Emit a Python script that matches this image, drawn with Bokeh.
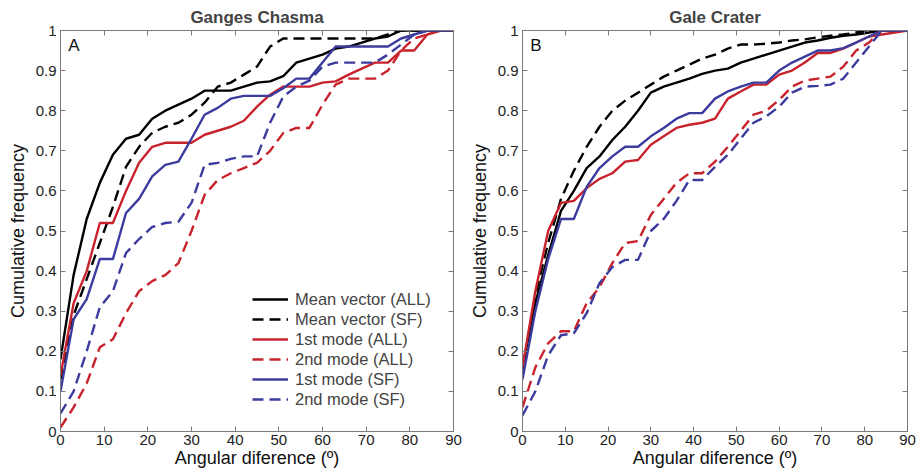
from bokeh.plotting import figure
from bokeh.layouts import row
from bokeh.models import (FixedTicker, LinearAxis, Legend, LegendItem, Label,
                          CustomJSTickFormatter, Range1d)
from bokeh.embed import file_html
from bokeh.resources import INLINE

# ---- data ----
angle = [0, 3, 6, 9, 12, 15, 18, 21, 24, 27, 30, 33, 36, 39, 42, 45,
         48, 51, 54, 57, 60, 63, 66, 69, 72, 75, 78, 81, 84, 87, 90]

ganges_mean_all = [0.18, 0.39, 0.53, 0.62, 0.69, 0.73, 0.74, 0.78, 0.80, 0.815, 0.83, 0.85, 0.85, 0.85, 0.86, 0.87,
                   0.873, 0.886, 0.92, 0.93, 0.94, 0.955, 0.96, 0.97, 0.98, 0.985, 1.0, 1.0, 1.0, 1.0, 1.0]
ganges_mean_sf = [0.13, 0.29, 0.38, 0.47, 0.56, 0.66, 0.71, 0.745, 0.76, 0.77, 0.79, 0.82, 0.86, 0.87, 0.89, 0.91,
                  0.96, 0.98, 0.98, 0.98, 0.98, 0.98, 0.98, 0.98, 0.98, 0.99, 1.0, 1.0, 1.0, 1.0, 1.0]
ganges_first_all = [0.14, 0.32, 0.40, 0.52, 0.52, 0.60, 0.67, 0.71, 0.72, 0.72, 0.72, 0.74, 0.75, 0.76, 0.775, 0.81,
                    0.84, 0.86, 0.86, 0.86, 0.87, 0.873, 0.89, 0.905, 0.92, 0.92, 0.95, 0.95, 0.99, 1.0, 1.0]
ganges_second_all = [0.01, 0.06, 0.12, 0.21, 0.23, 0.295, 0.35, 0.375, 0.39, 0.42, 0.50, 0.59, 0.627, 0.644, 0.657, 0.67,
                     0.70, 0.744, 0.757, 0.757, 0.815, 0.865, 0.88, 0.88, 0.88, 0.90, 0.95, 0.98, 0.99, 1.0, 1.0]
ganges_first_sf = [0.10, 0.28, 0.33, 0.43, 0.43, 0.545, 0.58, 0.636, 0.665, 0.673, 0.73, 0.79, 0.807, 0.83, 0.837, 0.837,
                   0.837, 0.856, 0.88, 0.88, 0.92, 0.96, 0.96, 0.96, 0.96, 0.96, 0.98, 0.99, 1.0, 1.0, 1.0]
ganges_second_sf = [0.045, 0.10, 0.20, 0.31, 0.35, 0.445, 0.48, 0.51, 0.52, 0.523, 0.57, 0.665, 0.67, 0.68, 0.686, 0.686,
                    0.77, 0.835, 0.86, 0.875, 0.91, 0.92, 0.92, 0.92, 0.92, 0.94, 0.965, 0.99, 1.0, 1.0, 1.0]

gale_mean_all = [0.16, 0.32, 0.44, 0.55, 0.60, 0.657, 0.686, 0.727, 0.76, 0.80, 0.845, 0.86, 0.87, 0.88, 0.892, 0.90,
                 0.905, 0.92, 0.93, 0.94, 0.95, 0.96, 0.97, 0.975, 0.982, 0.987, 0.99, 0.995, 1.0, 1.0, 1.0]
gale_mean_sf = [0.14, 0.34, 0.47, 0.58, 0.65, 0.71, 0.76, 0.80, 0.825, 0.845, 0.865, 0.885, 0.90, 0.915, 0.93, 0.94,
                0.955, 0.965, 0.965, 0.967, 0.97, 0.975, 0.978, 0.983, 0.987, 0.99, 0.995, 1.0, 1.0, 1.0, 1.0]
gale_first_all = [0.16, 0.35, 0.50, 0.57, 0.575, 0.607, 0.63, 0.644, 0.673, 0.677, 0.715, 0.736, 0.757, 0.765, 0.77, 0.78,
                  0.83, 0.848, 0.865, 0.865, 0.89, 0.90, 0.92, 0.944, 0.944, 0.955, 0.97, 0.985, 0.99, 0.995, 1.0]
gale_second_all = [0.06, 0.16, 0.22, 0.25, 0.25, 0.32, 0.36, 0.42, 0.47, 0.475, 0.54, 0.58, 0.62, 0.644, 0.644, 0.673,
                   0.71, 0.75, 0.79, 0.80, 0.827, 0.86, 0.875, 0.88, 0.885, 0.91, 0.95, 0.97, 1.0, 1.0, 1.0]
gale_first_sf = [0.13, 0.30, 0.43, 0.53, 0.53, 0.61, 0.657, 0.686, 0.71, 0.71, 0.736, 0.757, 0.78, 0.794, 0.794, 0.83,
                 0.848, 0.86, 0.87, 0.87, 0.90, 0.92, 0.935, 0.95, 0.95, 0.956, 0.97, 0.985, 1.0, 1.0, 1.0]
gale_second_sf = [0.04, 0.10, 0.19, 0.24, 0.245, 0.295, 0.37, 0.41, 0.428, 0.428, 0.50, 0.53, 0.575, 0.627, 0.627, 0.66,
                  0.69, 0.73, 0.77, 0.786, 0.81, 0.845, 0.86, 0.862, 0.865, 0.88, 0.92, 0.96, 1.0, 1.0, 1.0]

series_labels = ["Mean vector (ALL)", "Mean vector (SF)", "1st mode (ALL)",
                 "2nd mode (ALL)", "1st mode (SF)", "2nd mode (SF)"]
x_ticks = [0, 10, 20, 30, 40, 50, 60, 70, 80, 90]
y_ticks = [0, 0.1, 0.2, 0.3, 0.4, 0.5, 0.6, 0.7, 0.8, 0.9, 1]
y_tick_labels = ["0", "0.1", "0.2", "0.3", "0.4", "0.5", "0.6", "0.7", "0.8", "0.9", "1"]

BLACK = "#000000"
RED = "#c8232c"
BLUE = "#3c3c9e"
styles = [(BLACK, "solid"), (BLACK, "11 6"), (RED, "solid"),
          (RED, "11 6"), (BLUE, "solid"), (BLUE, "11 6")]

FONT = "Liberation Sans"
AXIS_COLOR = "#7a7a7a"


def make_panel(title, letter, ys, width, border_left, border_right, legend):
    p = figure(width=width, height=472, output_backend="svg", toolbar_location=None,
               x_range=Range1d(0, 90), y_range=Range1d(0, 1),
               min_border_left=border_left, min_border_right=border_right,
               min_border_top=30, min_border_bottom=41)
    p.title.text = title
    p.title.align = "center"
    p.title.text_font = FONT
    p.title.text_font_size = "17px"
    p.title.text_font_style = "bold"
    p.title.standoff = 8
    p.title.offset = 0
    p.grid.visible = False
    p.outline_line_color = AXIS_COLOR
    p.background_fill_color = "white"
    p.border_fill_color = "white"

    for ax in (p.xaxis[0], p.yaxis[0]):
        ax.axis_line_color = AXIS_COLOR
        ax.major_tick_line_color = AXIS_COLOR
        ax.major_tick_in = 5
        ax.major_tick_out = 0
        ax.minor_tick_line_color = None
        ax.major_label_text_font = FONT
        ax.major_label_text_font_size = "15px"
        ax.major_label_text_color = "#222222"
        ax.axis_label_text_font = FONT
        ax.axis_label_text_font_size = "18px"
        ax.axis_label_text_font_style = "normal"
        ax.axis_label_text_color = "#111111"
    p.xaxis[0].ticker = FixedTicker(ticks=x_ticks)
    p.yaxis[0].ticker = FixedTicker(ticks=y_ticks)
    p.yaxis[0].major_label_overrides = {t: l for t, l in zip(y_ticks, y_tick_labels)}
    p.xaxis[0].axis_label = "Angular diference (º)"
    p.yaxis[0].axis_label = "Cumulative frequency"
    p.xaxis[0].axis_label_standoff = 0
    p.yaxis[0].axis_label_standoff = 5
    p.xaxis[0].major_label_standoff = 3
    p.yaxis[0].major_label_standoff = 4

    # mirrored ticks on top and right
    blank = CustomJSTickFormatter(code="return ''")
    top = LinearAxis(ticker=FixedTicker(ticks=x_ticks), formatter=blank,
                     major_tick_in=5, major_tick_out=0, minor_tick_line_color=None,
                     axis_line_color=AXIS_COLOR, major_tick_line_color=AXIS_COLOR,
                     major_label_standoff=0)
    right = LinearAxis(ticker=FixedTicker(ticks=y_ticks), formatter=blank,
                       major_tick_in=5, major_tick_out=0, minor_tick_line_color=None,
                       axis_line_color=AXIS_COLOR, major_tick_line_color=AXIS_COLOR,
                       major_label_standoff=0)
    p.add_layout(top, "above")
    p.add_layout(right, "right")

    renderers = []
    for yv, (col, dash) in zip(ys, styles):
        r = p.line(angle, yv, line_color=col, line_width=2.4, line_dash=dash)
        renderers.append(r)

    p.add_layout(Label(x=1.8, y=0.962, text=letter, text_font=FONT, text_font_size="17px",
                       text_baseline="middle", text_color="#111111"))

    if legend:
        items = [LegendItem(label=lab, renderers=[r]) for lab, r in zip(series_labels, renderers)]
        lg = Legend(items=items, location=(192, 22), border_line_color=None,
                    background_fill_alpha=0, label_text_font=FONT, label_text_font_size="16.5px",
                    label_height=20, glyph_height=20, glyph_width=36, spacing=0,
                    padding=2, margin=0, label_standoff=7)
        p.add_layout(lg, "center")
    return p


left = make_panel("Ganges Chasma", "A",
                  [ganges_mean_all, ganges_mean_sf, ganges_first_all,
                   ganges_second_all, ganges_first_sf, ganges_second_sf],
                  width=466, border_left=60, border_right=13, legend=True)
right = make_panel("Gale Crater", "B",
                   [gale_mean_all, gale_mean_sf, gale_first_all,
                    gale_second_all, gale_first_sf, gale_second_sf],
                   width=450, border_left=47, border_right=9, legend=False)

layout = row(left, right)
open("out.html", "w").write(file_html(layout, INLINE))
